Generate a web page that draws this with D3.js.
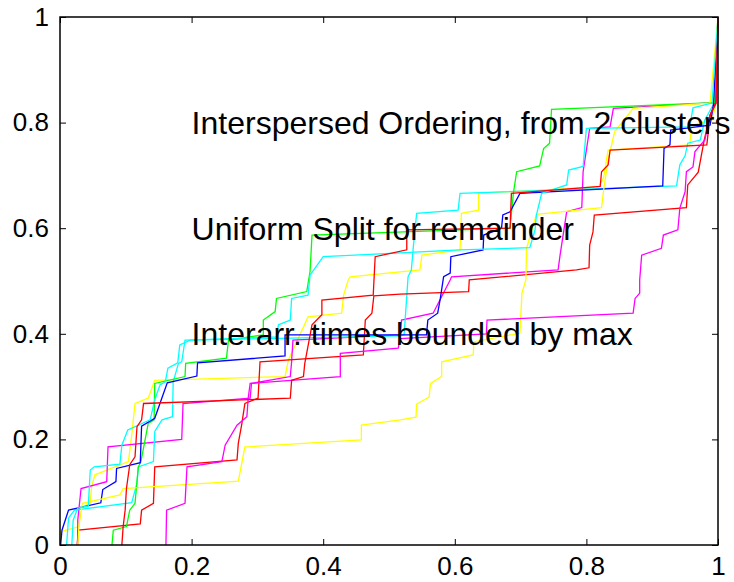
<!DOCTYPE html>
<html>
<head>
<meta charset="utf-8">
<script src="https://cdn.jsdelivr.net/npm/d3@7/dist/d3.min.js"></script>
<style>
  body { margin: 0; background: #fff; }
  text { font-family: "Liberation Sans", Arial, sans-serif; }
</style>
</head>
<body>
<div class="chart"></div>
<script>
// tick values
var xTicks = [0, 0.2, 0.4, 0.6, 0.8, 1];
var yTicks = [0, 0.2, 0.4, 0.6, 0.8, 1];

// cumulative curves, [x, y] pairs
var yellow1 = [[0,0],[0,0.025],[0.029,0.035],[0.030,0.070],[0.046,0.079],[0.048,0.110],[0.053,0.133],[0.104,0.158],[0.109,0.208],[0.114,0.268],[0.134,0.278],[0.144,0.312],[0.342,0.319],[0.347,0.350],[0.377,0.432],[0.428,0.439],[0.431,0.473],[0.438,0.502],[0.441,0.508],[0.547,0.521],[0.550,0.549],[0.608,0.559],[0.610,0.628],[0.636,0.634],[0.636,0.666],[0.818,0.678],[0.826,0.695],[0.833,0.748],[0.957,0.758],[0.960,0.795],[0.991,0.805],[0.997,0.837],[1,1]];
var magenta1 = [[0.027,0],[0.027,0.047],[0.032,0.107],[0.071,0.120],[0.073,0.186],[0.185,0.200],[0.187,0.268],[0.289,0.278],[0.291,0.306],[0.350,0.319],[0.352,0.347],[0.354,0.388],[0.517,0.398],[0.519,0.426],[0.567,0.439],[0.593,0.502],[0.595,0.508],[0.757,0.521],[0.760,0.549],[0.770,0.631],[0.793,0.639],[0.795,0.707],[0.805,0.789],[0.836,0.792],[0.841,0.827],[0.995,0.838],[1,1]];
var cyan1 = [[0.010,0],[0.013,0.051],[0.022,0.066],[0.109,0.080],[0.117,0.117],[0.119,0.148],[0.142,0.158],[0.144,0.215],[0.155,0.237],[0.171,0.243],[0.172,0.309],[0.180,0.344],[0.185,0.347],[0.190,0.388],[0.517,0.396],[0.523,0.398],[0.529,0.508],[0.534,0.521],[0.537,0.565],[0.542,0.628],[0.605,0.634],[0.608,0.666],[0.937,0.680],[0.942,0.720],[0.950,0.737],[0.954,0.761],[0.973,0.767],[0.980,0.805],[0.995,0.839],[1,1]];
var red1 = [[0.026,0],[0.028,0.028],[0.122,0.040],[0.124,0.066],[0.142,0.079],[0.144,0.148],[0.269,0.161],[0.271,0.193],[0.276,0.227],[0.281,0.268],[0.301,0.278],[0.304,0.347],[0.461,0.360],[0.464,0.426],[0.474,0.439],[0.477,0.472],[0.517,0.475],[0.621,0.480],[0.622,0.502],[0.785,0.521],[0.804,0.525],[0.805,0.568],[0.810,0.593],[0.812,0.625],[0.952,0.639],[0.954,0.682],[0.970,0.706],[0.979,0.767],[0.988,0.814],[0.997,0.843],[1,1]];
var green1 = [[0.079,0],[0.081,0.028],[0.101,0.035],[0.106,0.066],[0.114,0.079],[0.119,0.148],[0.123,0.158],[0.134,0.230],[0.143,0.237],[0.144,0.306],[0.190,0.319],[0.191,0.344],[0.253,0.354],[0.256,0.388],[0.309,0.398],[0.309,0.426],[0.327,0.442],[0.329,0.467],[0.375,0.480],[0.380,0.518],[0.383,0.587],[0.684,0.600],[0.689,0.666],[0.694,0.707],[0.729,0.718],[0.735,0.751],[0.744,0.761],[0.747,0.825],[0.995,0.838],[1,1]];
var blue1 = [[0.001,0],[0.003,0.028],[0.013,0.066],[0.062,0.080],[0.065,0.105],[0.085,0.120],[0.086,0.145],[0.122,0.156],[0.124,0.225],[0.144,0.240],[0.163,0.307],[0.208,0.320],[0.209,0.345],[0.342,0.358],[0.342,0.398],[0.557,0.398],[0.559,0.426],[0.574,0.439],[0.578,0.467],[0.583,0.508],[0.593,0.515],[0.594,0.546],[0.643,0.559],[0.644,0.587],[0.671,0.600],[0.673,0.625],[0.684,0.631],[0.699,0.666],[0.916,0.680],[0.918,0.751],[0.927,0.758],[0.928,0.786],[0.988,0.795],[0.993,0.833],[1,1]];
var yellow2 = [[0.027,0],[0.029,0.038],[0.034,0.079],[0.091,0.095],[0.096,0.107],[0.261,0.120],[0.271,0.121],[0.281,0.186],[0.286,0.186],[0.458,0.199],[0.458,0.227],[0.517,0.237],[0.541,0.242],[0.542,0.267],[0.561,0.280],[0.563,0.306],[0.580,0.319],[0.580,0.347],[0.628,0.360],[0.629,0.385],[0.699,0.401],[0.702,0.477],[0.708,0.502],[0.709,0.562],[0.724,0.626],[0.823,0.639],[0.827,0.680],[0.833,0.729],[0.843,0.783],[0.871,0.827],[0.988,0.837],[1,1]];
var magenta2 = [[0.161,0],[0.162,0.066],[0.190,0.079],[0.193,0.148],[0.246,0.158],[0.251,0.189],[0.269,0.227],[0.284,0.243],[0.286,0.278],[0.289,0.306],[0.426,0.319],[0.426,0.363],[0.514,0.373],[0.517,0.391],[0.648,0.400],[0.649,0.426],[0.871,0.439],[0.874,0.467],[0.881,0.477],[0.881,0.502],[0.884,0.549],[0.914,0.562],[0.917,0.587],[0.939,0.597],[0.942,0.638],[0.950,0.669],[0.952,0.707],[0.962,0.716],[0.965,0.745],[0.980,0.767],[0.988,0.814],[0.997,0.837],[1,1]];
var cyan2 = [[0.018,0],[0.020,0.047],[0.027,0.070],[0.043,0.074],[0.046,0.142],[0.052,0.148],[0.091,0.153],[0.094,0.189],[0.103,0.218],[0.137,0.237],[0.144,0.275],[0.152,0.303],[0.160,0.309],[0.164,0.335],[0.179,0.345],[0.182,0.379],[0.198,0.388],[0.329,0.394],[0.332,0.417],[0.350,0.426],[0.352,0.467],[0.377,0.473],[0.380,0.511],[0.400,0.546],[0.608,0.559],[0.714,0.563],[0.722,0.597],[0.724,0.625],[0.732,0.666],[0.770,0.682],[0.773,0.710],[0.795,0.717],[0.800,0.789],[0.957,0.792],[0.962,0.828],[0.991,0.837],[1,1]];
var red2 = [[0.094,0],[0.096,0.035],[0.099,0.066],[0.101,0.107],[0.106,0.152],[0.114,0.167],[0.117,0.224],[0.124,0.237],[0.127,0.268],[0.350,0.278],[0.352,0.312],[0.370,0.319],[0.372,0.344],[0.383,0.417],[0.398,0.436],[0.398,0.464],[0.476,0.473],[0.479,0.546],[0.527,0.559],[0.527,0.597],[0.684,0.600],[0.686,0.666],[0.821,0.679],[0.823,0.707],[0.833,0.720],[0.836,0.748],[0.983,0.758],[0.988,0.814],[0.997,0.837],[1,1]];

var series = [yellow1, magenta1, cyan1, red1, green1, blue1, yellow2, magenta2, cyan2, red2];
var colors = ["#ffff00", "#ff00ff", "#00ffff", "#ff0000", "#00ff00", "#0000ff", "#ffff00", "#ff00ff", "#00ffff", "#ff0000"];

var notes = ["Interspersed Ordering, from 2 clusters", "Uniform Split for remainder", "Interarr. times bounded by max"];
var noteY = [0.8, 0.6, 0.4];
var noteX = 0.2;

var w = 734;
var h = 582;
var margin = {left: 60, right: 16, top: 17, bottom: 37};

var svg = d3.select(".chart")
    .append("svg")
    .attr("width", w)
    .attr("height", h);

var x = d3.scaleLinear().domain([0, 1]).range([margin.left, w - margin.right]);
var y = d3.scaleLinear().domain([0, 1]).range([h - margin.bottom, margin.top]);

var fmt = d3.format("~g");

// axes, ticks point inward like matlab
svg.append("g")
    .attr("transform", "translate(0," + y(0) + ")")
    .call(d3.axisBottom(x).tickValues(xTicks).tickFormat(fmt).tickSizeInner(-6).tickSizeOuter(0).tickPadding(12));
svg.append("g")
    .attr("transform", "translate(0," + y(1) + ")")
    .call(d3.axisTop(x).tickValues(xTicks).tickFormat("").tickSizeInner(-6).tickSizeOuter(0));
svg.append("g")
    .attr("transform", "translate(" + x(0) + ",0)")
    .call(d3.axisLeft(y).tickValues(yTicks).tickFormat(fmt).tickSizeInner(-6).tickSizeOuter(0).tickPadding(11));
svg.append("g")
    .attr("transform", "translate(" + x(1) + ",0)")
    .call(d3.axisRight(y).tickValues(yTicks).tickFormat("").tickSizeInner(-6).tickSizeOuter(0));

svg.selectAll(".domain").remove();
svg.selectAll(".tick line").attr("stroke", "#000").attr("stroke-width", 1);
svg.selectAll(".tick text")
    .attr("font-family", "Liberation Sans, Arial, sans-serif")
    .attr("font-size", 26)
    .attr("fill", "#000");

var line = d3.line()
    .x(function (d) { return x(d[0]); })
    .y(function (d) { return y(d[1]); });

svg.append("g")
    .attr("class", "curves")
    .selectAll("path")
    .data(series)
    .enter().append("path")
    .attr("d", line)
    .attr("fill", "none")
    .attr("stroke", function (d, i) { return colors[i]; })
    .attr("stroke-width", 1.3)
    .attr("stroke-linejoin", "miter");

svg.append("g")
    .selectAll("text")
    .data(notes)
    .enter().append("text")
    .attr("x", x(noteX))
    .attr("y", function (d, i) { return y(noteY[i]); })
    .attr("dy", "0.36em")
    .attr("font-size", 32)
    .attr("fill", "#000")
    .text(function (d) { return d; });

// axes box
svg.append("rect")
    .attr("x", x(0))
    .attr("y", y(1))
    .attr("width", x(1) - x(0))
    .attr("height", y(0) - y(1))
    .attr("fill", "none")
    .attr("stroke", "#000")
    .attr("stroke-width", 1.5);
</script>
</body>
</html>
